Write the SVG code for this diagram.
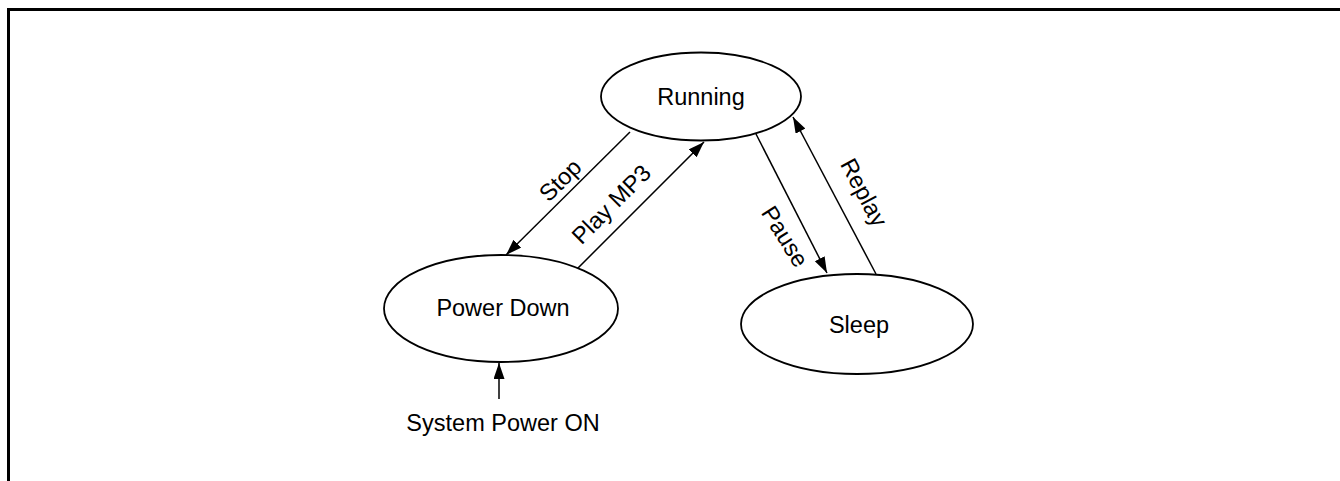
<svg xmlns="http://www.w3.org/2000/svg" width="1340" height="481" viewBox="0 0 1340 481">
<style>
.node ellipse{fill:#fff;stroke:#000;stroke-width:1.8}
text{font-family:"Liberation Sans",Arial,sans-serif;font-size:23.5px;fill:#000}
.lbl{text-anchor:middle}
.conn line{stroke:#000;stroke-width:1.5}
</style>
<defs>
<marker id="ah" markerUnits="userSpaceOnUse" markerWidth="17" markerHeight="12" refX="16" refY="5.5" orient="auto">
<path d="M0,0 L16,5.5 L0,11 z" fill="#000"/>
</marker>
</defs>
<rect width="1340" height="481" fill="#fff"/>
<path d="M8.5 481 V9.5 H1340" fill="none" stroke="#000" stroke-width="3"/>
<g class="conn">
<line x1="630" y1="132" x2="506" y2="255" marker-end="url(#ah)"/>
<line x1="573" y1="273" x2="704" y2="142" marker-end="url(#ah)"/>
<line x1="756" y1="134" x2="827" y2="273" marker-end="url(#ah)"/>
<line x1="876" y1="274" x2="793" y2="117" marker-end="url(#ah)"/>
<line x1="499" y1="399" x2="499" y2="363" marker-end="url(#ah)"/>
<text class="lbl" transform="translate(561,181) rotate(-45)" y="7">Stop</text>
<text class="lbl" transform="translate(612,205) rotate(-45)" y="7">Play MP3</text>
<text class="lbl" transform="translate(784,237) rotate(58)" y="7">Pause</text>
<text class="lbl" transform="translate(863,193) rotate(62)" y="7">Replay</text>
<text class="lbl" x="503" y="431">System Power ON</text>
</g>
<g id="running" class="node">
<ellipse cx="701" cy="96.5" rx="100" ry="44"/>
<text class="lbl" x="701" y="104.5">Running</text>
</g>
<g id="powerdown" class="node">
<ellipse cx="501" cy="308.5" rx="117" ry="53.5"/>
<text class="lbl" x="503" y="316">Power Down</text>
</g>
<g id="sleep" class="node">
<ellipse cx="857" cy="324" rx="116" ry="50"/>
<text class="lbl" x="859" y="333">Sleep</text>
</g>
</svg>
